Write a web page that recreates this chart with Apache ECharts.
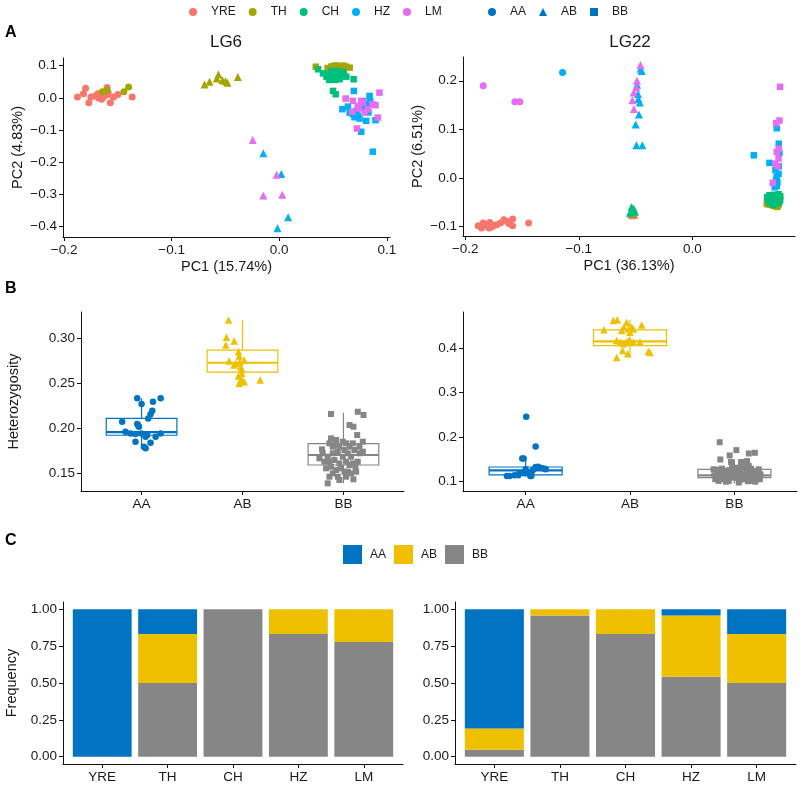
<!DOCTYPE html>
<html><head><meta charset="utf-8">
<script src="https://cdn.jsdelivr.net/npm/echarts@6/dist/echarts.min.js"></script>
<style>html,body{margin:0;padding:0;background:#fff}#c{width:800px;height:786px}</style>
</head><body><div id="c"></div>
<script>
// ---------- categories ----------
const POPS = ['YRE','TH','CH','HZ','LM'];
const GENOS = ['AA','AB','BB'];
const POP_COLORS = ['#F8766D','#A3A500','#00BF7D','#00B0F6','#E76BF3'];
const GENO_COLORS = ['#0073C2','#EFC000','#868686'];

// ---------- Panel A: PCA, LG6 ([PC1, PC2]) ----------
const LG6_YRE = {AA:[[-0.1876,0.003],[-0.182,0.013],[-0.180,0.030],[-0.177,-0.015],[-0.171,0.006],[-0.1685,0.013],[-0.166,0.009],[-0.1635,0.003],[-0.160,0.032],[-0.160,0.009],[-0.157,-0.015],[-0.154,0.003],[-0.150,0.011],[-0.1367,0.003],[-0.175,0.003],[-0.165,-0.004],[-0.159,0.016],[-0.168,0.0]], AB:[], BB:[]};
const LG6_TH = {AA:[[-0.1645,0.0195],[-0.160,0.024],[-0.1444,0.0195],[-0.140,0.034]],
  AB:[[-0.0694,0.042],[-0.0648,0.050],[-0.0565,0.073],[-0.0528,0.055],[-0.0481,0.047],[-0.0385,0.065],[-0.050,0.052],[-0.058,0.060]],
  BB:[[0.034,0.097],[0.0485,0.097],[0.053,0.101],[0.0578,0.099],[0.0624,0.097],[0.0655,0.094],[0.0516,0.091],[0.050,0.099],[0.055,0.095],[0.060,0.100],[0.045,0.093],[0.058,0.090]]};
const LG6_CH = {AA:[], AB:[], BB:[[0.0361,0.089],[0.0407,0.0765],[0.0463,0.056],[0.050,0.068],[0.0531,0.0836],[0.0556,0.0734],[0.0593,0.0805],[0.0624,0.066],[0.0562,0.058],[0.0516,0.056],[0.0485,0.0836],[0.0692,0.058],[0.050,0.0217],[0.0525,0.0115],[0.0454,0.0734],[0.044,0.066],[0.057,0.069],[0.060,0.075],[0.048,0.062],[0.053,0.064]]};
const LG6_HZ = {AA:[], AB:[[-0.0148,-0.172],[0.0019,-0.236],[0.0083,-0.371],[-0.0016,-0.405]],
  BB:[[0.0694,0.0217],[0.084,0.0062],[0.0846,-0.0093],[0.0587,-0.035],[0.0639,-0.027],[0.0685,-0.0505],[0.0747,-0.064],[0.0809,-0.0712],[0.0895,-0.069],[0.0763,-0.105],[0.087,-0.167],[0.0809,-0.0195],[0.0655,-0.0455],[0.0717,-0.040],[0.080,-0.030],[0.073,-0.055],[0.078,-0.010],[0.083,-0.045],[0.070,-0.060],[0.086,-0.020]]};
const LG6_LM = {AA:[], AB:[[-0.0246,-0.131],[-0.0024,-0.239],[-0.0148,-0.303],[0.0028,-0.301]],
  BB:[[0.0932,0.0164],[0.0618,-0.002],[0.0685,-0.0093],[0.0763,-0.0093],[0.0865,-0.0195],[0.0895,-0.0226],[0.0731,-0.0248],[0.068,-0.0433],[0.0794,-0.0455],[0.0917,-0.061],[0.0722,-0.095],[0.0778,-0.0146],[0.0824,-0.035],[0.074,-0.033]]};

// ---------- Panel A: PCA, LG22 ----------
const LG22_YRE = {AA:[[-0.1886,-0.0988],[-0.1856,-0.1035],[-0.1827,-0.0967],[-0.1798,-0.1002],[-0.1783,-0.092],[-0.1754,-0.0988],[-0.1724,-0.0967],[-0.1689,-0.0933],[-0.166,-0.0865],[-0.163,-0.090],[-0.1583,-0.0851],[-0.1583,-0.0988],[-0.1442,-0.0933],[-0.1789,-0.1035],[-0.1842,-0.0933],[-0.1613,-0.0947],[-0.1765,-0.1010]],
  AB:[[-0.0530,-0.077],[-0.0510,-0.076],[-0.0540,-0.074]], BB:[[0.0656,-0.0538]]};
const LG22_TH = {AA:[], AB:[[-0.0520,-0.074]],
  BB:[[0.0660,-0.050],[0.0680,-0.055],[0.0700,-0.045],[0.0720,-0.058],[0.0740,-0.052],[0.0753,-0.058],[0.0765,-0.048],[0.0690,-0.040],[0.0710,-0.053],[0.0730,-0.044],[0.0750,-0.040],[0.0670,-0.046],[0.0700,-0.056],[0.0735,-0.050],[0.0760,-0.055],[0.0775,-0.045],[0.0685,-0.050],[0.0715,-0.048],[0.0745,-0.060],[0.0725,-0.038],[0.0695,-0.042],[0.0755,-0.046],[0.0665,-0.054]]};
const LG22_CH = {AA:[], AB:[[-0.0535,-0.060],[-0.0515,-0.064],[-0.0550,-0.072],[-0.0505,-0.070]],
  BB:[[0.0660,-0.040],[0.0680,-0.036],[0.0700,-0.038],[0.0720,-0.035],[0.0740,-0.036],[0.0760,-0.034],[0.0775,-0.038],[0.0670,-0.045],[0.0690,-0.048],[0.0710,-0.042],[0.0730,-0.047],[0.0750,-0.044],[0.0770,-0.048],[0.0680,-0.052],[0.0700,-0.050],[0.0720,-0.054],[0.0740,-0.050],[0.0760,-0.052],[0.0715,-0.056],[0.0735,-0.040]]};
const LG22_HZ = {AA:[[-0.1143,0.2168]],
  AB:[[-0.0446,0.2202],[-0.0478,0.1726],[-0.0475,0.1624],[-0.047,0.1303],[-0.0499,0.1098],[-0.0492,0.0669],[-0.044,0.0669],[-0.0487,0.1916],[-0.0463,0.1554],[-0.0455,0.2250]],
  BB:[[0.0744,0.1022],[0.0762,0.0703],[0.0768,0.0511],[0.0542,0.0464],[0.068,0.0307],[0.0762,0.0239],[0.0733,0.0157],[0.0744,0.002],[0.0739,-0.0047],[0.0744,-0.017],[0.0727,-0.0196],[0.0760,0.0080],[0.0750,-0.010]]};
const LG22_LM = {AA:[[-0.1842,0.1896],[-0.1563,0.1569],[-0.1519,0.1569]],
  AB:[[-0.0457,0.2325],[-0.0487,0.1998],[-0.0492,0.186],[-0.0516,0.1759],[-0.0528,0.160],[-0.0514,0.142]],
  BB:[[0.0774,0.1875],[0.0768,0.118],[0.0739,0.1125],[0.0744,0.0532],[0.0762,0.060],[0.0733,0.0294],[0.0753,0.0239],[0.0709,-0.0102],[0.0760,0.040]]};

// ---------- Panel B: heterozygosity (x = genotype index + jitter) ----------
const HET_LG6_BOX = [[0.1774,0.192,0.1955,0.2108,0.233],[0.2475,0.2622,0.2726,0.2867,0.32],[0.1385,0.1589,0.170,0.1826,0.217]];
const HET_LG6_AA = [[0.957,0.233],[1.189,0.233],[1.0,0.2267],[1.113,0.2293],[1.106,0.2193],[1.089,0.2152],[1.066,0.2107],[0.808,0.207],[0.957,0.2044],[0.974,0.2015],[0.841,0.1959],[0.891,0.194],[0.940,0.1933],[1.0,0.194],[1.056,0.1922],[1.139,0.1904],[1.189,0.194],[1.040,0.1904],[0.940,0.1848],[1.089,0.1837],[1.040,0.1774],[1.023,0.1793],[0.967,0.203]];
const HET_LG6_AB = [[1.861,0.32],[1.841,0.3008],[1.917,0.2967],[1.834,0.2922],[1.960,0.2848],[1.967,0.28],[1.868,0.2744],[2.017,0.2756],[1.934,0.2719],[1.974,0.2737],[1.983,0.2681],[1.917,0.27],[1.993,0.2652],[1.993,0.2608],[1.960,0.2578],[1.983,0.2533],[2.017,0.2515],[1.967,0.2497],[2.175,0.2533]];
const HET_LG6_BB = [[2.877,0.2156],[3.142,0.2181],[3.199,0.2145],[3.06,0.2033],[3.099,0.2015],[3.136,0.1922],[3.192,0.1848],[2.788,0.1763],[2.877,0.1885],[2.861,0.183],[2.911,0.1811],[2.927,0.1867],[2.993,0.1848],[3.026,0.183],[3.06,0.1793],[3.093,0.183],[3.109,0.1756],[3.159,0.1719],[2.795,0.1719],[2.844,0.1681],[2.894,0.1719],[2.944,0.1737],[2.96,0.1793],[3.01,0.1756],[3.043,0.1719],[3.076,0.1681],[3.142,0.1626],[3.192,0.1737],[2.811,0.1626],[2.861,0.1626],[2.911,0.1644],[2.96,0.1607],[2.993,0.1681],[3.026,0.1626],[3.093,0.1607],[3.119,0.157],[2.828,0.1552],[2.877,0.157],[2.927,0.1533],[2.977,0.1552],[3.043,0.1515],[3.076,0.1496],[3.126,0.1515],[2.894,0.1496],[2.944,0.1459],[3.026,0.1459],[3.099,0.143],[2.96,0.1422],[2.844,0.1385],[2.861,0.1459],[3.01,0.1515],[3.06,0.1589],[2.894,0.1793],[3.159,0.1793],[2.762,0.1663]];

const HET_LG22_BOX = [[0.110,0.1145,0.1245,0.132,0.151],[0.378,0.4051,0.4147,0.4408,0.4638],[0.0955,0.1082,0.1134,0.1268,0.149]];
const HET_LG22_AA = [[0.821,0.1119],[0.846,0.1119],[0.894,0.1134],[0.942,0.1179],[0.968,0.1513],[0.981,0.1513],[1.0,0.1268],[1.022,0.1208],[1.045,0.1119],[1.054,0.1156],[1.096,0.132],[1.119,0.1327],[1.151,0.1298],[1.183,0.1283],[1.192,0.1268],[1.006,0.2451],[1.096,0.1781],[1.054,0.1119],[0.93,0.1134],[1.07,0.125],[0.99,0.118]];
const HET_LG22_AB = [[1.75,0.4408],[1.84,0.4616],[1.878,0.4638],[1.92,0.4393],[1.942,0.4467],[1.968,0.4579],[1.984,0.443],[2.0,0.4356],[2.016,0.4467],[2.032,0.443],[2.112,0.4519],[1.872,0.417],[1.904,0.4132],[1.936,0.4095],[1.968,0.4147],[2.0,0.417],[2.032,0.4132],[2.096,0.4132],[1.929,0.3943],[1.978,0.3872],[1.872,0.3783],[2.176,0.392],[2.192,0.3897],[1.994,0.4185]];
const HET_LG22_BB = [[2.859,0.1878],[3.019,0.17],[3.138,0.1625],[3.196,0.164],[2.865,0.149],[2.955,0.158],[3.074,0.14],[3.122,0.1454],[2.801,0.1268],[2.833,0.1193],[2.865,0.1119],[2.897,0.1045],[2.929,0.1231],[2.962,0.1156],[2.994,0.1082],[3.026,0.1305],[3.058,0.1193],[3.09,0.1045],[3.122,0.1268],[3.154,0.1119],[3.186,0.1231],[3.218,0.1045],[3.25,0.1156],[2.817,0.1045],[2.849,0.1007],[2.946,0.1007],[3.042,0.097],[3.106,0.1156],[3.17,0.1007],[3.234,0.1268],[2.881,0.1283],[2.978,0.1342],[3.01,0.1231],[3.074,0.1305],[3.138,0.1342],[3.202,0.1119],[2.913,0.1119],[3.032,0.1082],[3.147,0.1208],[3.244,0.1045],[2.808,0.1134],[3.064,0.1432],[3.096,0.1357],[2.968,0.1432],[2.84,0.108],[2.92,0.099],[2.95,0.125],[3.0,0.113],[3.05,0.102],[3.11,0.107],[3.16,0.128],[3.2,0.099],[2.87,0.121],[2.99,0.126],[3.08,0.111],[3.13,0.100],[3.22,0.121],[2.9,0.116],[3.02,0.116],[3.17,0.113],[2.83,0.126],[3.04,0.125],[3.12,0.120],[2.94,0.110],[3.06,0.106],[3.19,0.107]];

// ---------- Panel C: genotype frequencies per population ----------
const FREQ_LG6 = {AA:[1,0.1667,0,0,0], AB:[0,0.3333,0,0.1667,0.2222], BB:[0,0.5,1,0.8333,0.7778]};
const FREQ_LG22 = {AA:[0.8095,0,0,0.0417,0.1667], AB:[0.1429,0.0417,0.1667,0.4167,0.3333], BB:[0.0476,0.9583,0.8333,0.5417,0.5]};

// ---------- tick values ----------
const LG6_X_TICKS = [-0.2,-0.1,0,0.1];
const LG6_Y_TICKS = [-0.4,-0.3,-0.2,-0.1,0,0.1];
const LG22_X_TICKS = [-0.2,-0.1,0];
const LG22_Y_TICKS = [-0.1,0,0.1,0.2];
const HET_LG6_TICKS = [0.15,0.20,0.25,0.30];
const HET_LG22_TICKS = [0.1,0.2,0.3,0.4];
const FREQ_TICKS = [0,0.25,0.5,0.75,1];
const GENO_TICKS = [1,2,3];
const POP_TICKS = [1,2,3,4,5];

// ---------- styling ----------
const FONT = '"Liberation Sans", Arial, Helvetica, sans-serif';
const TXT = '#1a1a1a';
const SHAPE = {AA:'circle', AB:'triangle', BB:'rect'};
const SIZE = {AA:7, AB:8, BB:6.5};
const BOX_WIDTH = 0.7, BAR_WIDTH = 0.9;

function fmt(d){ return v => (v < -1e-9 ? '\u2212' : '') + Math.abs(v).toFixed(d); }
function catFmt(labels){ return v => labels[Math.round(v)-1]; }

function axis(grid, min, max, ticks, formatter, name, nameGap){
  return {
    type:'value', gridIndex:grid, min, max,
    axisLine:{show:true, onZero:false, lineStyle:{color:'#111', width:1}},
    axisTick:{show:true, length:4, customValues:ticks, lineStyle:{color:'#111', width:1}},
    axisLabel:{customValues:ticks, formatter, color:TXT, fontSize:13.5, fontFamily:FONT, margin:6},
    splitLine:{show:false},
    name: name || '', nameLocation:'middle', nameGap: nameGap || 20,
    nameTextStyle:{color:TXT, fontSize:14.5, fontFamily:FONT}
  };
}

const grids = [
  {left:63, top:58, width:327, height:179},
  {left:463, top:57, width:332, height:179},
  {left:81, top:312, width:323, height:179},
  {left:463, top:312, width:334, height:179},
  {left:63, top:602, width:340, height:162},
  {left:455, top:602, width:341, height:162}
];

const xAxes = [
  axis(0, -0.201, 0.103, LG6_X_TICKS, fmt(1), 'PC1 (15.74%)', 22),
  axis(1, -0.202, 0.0905, LG22_X_TICKS, fmt(1), 'PC1 (36.13%)', 22),
  axis(2, 0.4, 3.6, GENO_TICKS, catFmt(GENOS)),
  axis(3, 0.4, 3.6, GENO_TICKS, catFmt(GENOS)),
  axis(4, 0.4, 5.6, POP_TICKS, catFmt(POPS)),
  axis(5, 0.4, 5.6, POP_TICKS, catFmt(POPS))
];
const yAxes = [
  axis(0, -0.432, 0.124, LG6_Y_TICKS, fmt(1), 'PC2 (4.83%)', 38),
  axis(1, -0.12, 0.249, LG22_Y_TICKS, fmt(1), 'PC2 (6.51%)', 38),
  axis(2, 0.13, 0.329, HET_LG6_TICKS, fmt(2), 'Heterozygosity', 60),
  axis(3, 0.078, 0.481, HET_LG22_TICKS, fmt(1)),
  axis(4, -0.05, 1.05, FREQ_TICKS, fmt(2), 'Frequency', 44),
  axis(5, -0.05, 1.05, FREQ_TICKS, fmt(2))
];

const series = [];
function pcaSeries(byPop, grid){
  POPS.forEach((p, i) => {
    GENOS.forEach(g => {
      const d = byPop[p][g];
      if (!d.length) return;
      series.push({type:'scatter', name:p, xAxisIndex:grid, yAxisIndex:grid, data:d,
        symbol:SHAPE[g], symbolSize:SIZE[g], silent:true,
        itemStyle:{color:POP_COLORS[i], opacity:1}});
    });
  });
}
pcaSeries({YRE:LG6_YRE, TH:LG6_TH, CH:LG6_CH, HZ:LG6_HZ, LM:LG6_LM}, 0);
pcaSeries({YRE:LG22_YRE, TH:LG22_TH, CH:LG22_CH, HZ:LG22_HZ, LM:LG22_LM}, 1);

function renderBox(params, api){
  const x = api.value(0);
  const c = GENO_COLORS[params.dataIndex];
  const p = [1,2,3,4,5].map(k => api.coord([x, api.value(k)]));
  const hw = api.size([BOX_WIDTH, 0])[0] / 2;
  const cx = p[0][0], lw = 1.2;
  return {type:'group', children:[
    {type:'line', shape:{x1:cx, y1:p[4][1], x2:cx, y2:p[3][1]}, style:{stroke:c, lineWidth:lw}},
    {type:'line', shape:{x1:cx, y1:p[1][1], x2:cx, y2:p[0][1]}, style:{stroke:c, lineWidth:lw}},
    {type:'rect', shape:{x:cx-hw, y:p[3][1], width:2*hw, height:p[1][1]-p[3][1]}, style:{fill:'#fff', stroke:c, lineWidth:lw}},
    {type:'line', shape:{x1:cx-hw, y1:p[2][1], x2:cx+hw, y2:p[2][1]}, style:{stroke:c, lineWidth:2.2}}
  ]};
}
function hetSeries(box, pts, grid){
  series.push({type:'custom', name:'box'+grid, xAxisIndex:grid, yAxisIndex:grid, silent:true,
    data: box.map((s, i) => [i+1].concat(s)), encode:{x:0, y:[1,2,3,4,5]}, renderItem:renderBox});
  GENOS.forEach((g, i) => {
    series.push({type:'scatter', name:g, xAxisIndex:grid, yAxisIndex:grid, data:pts[i], silent:true,
      symbol:SHAPE[g], symbolSize:SIZE[g]-0.5, itemStyle:{color:GENO_COLORS[i], opacity:1}});
  });
}
hetSeries(HET_LG6_BOX, [HET_LG6_AA, HET_LG6_AB, HET_LG6_BB], 2);
hetSeries(HET_LG22_BOX, [HET_LG22_AA, HET_LG22_AB, HET_LG22_BB], 3);

function renderBar(params, api){
  const x = api.value(0), y0 = api.value(1), y1 = api.value(2);
  if (!(y1 - y0 > 0)) return {type:'group', children:[]};
  const a = api.coord([x, y0]), b = api.coord([x, y1]);
  const w = api.size([BAR_WIDTH, 0])[0];
  return {type:'rect', shape:{x:a[0]-w/2, y:b[1], width:w, height:a[1]-b[1]}, style:{fill:api.visual('color')}};
}
function freqSeries(freq, grid){
  const base = POPS.map(() => 0);
  ['BB','AB','AA'].forEach(g => {
    const data = freq[g].map((v, i) => { const d = [i+1, base[i], base[i]+v]; base[i] += v; return d; });
    series.push({type:'custom', name:g, xAxisIndex:grid, yAxisIndex:grid, silent:true, data,
      encode:{x:0, y:[1,2]}, itemStyle:{color:GENO_COLORS[GENOS.indexOf(g)]}, renderItem:renderBar});
  });
}
freqSeries(FREQ_LG6, 4);
freqSeries(FREQ_LG22, 5);

const legendText = {color:TXT, fontSize:12, fontFamily:FONT, padding:[0,0,0,9]};
const option = {
  animation:false,
  backgroundColor:'#fff',
  textStyle:{fontFamily:FONT},
  grid:grids, xAxis:xAxes, yAxis:yAxes, series,
  legend:[
    {left:189, top:6, padding:0, itemWidth:8, itemHeight:8, itemGap:13, selectedMode:false, textStyle:legendText,
     data: POPS.map((p, i) => ({name:p, icon:'circle', itemStyle:{color:POP_COLORS[i]}}))},
    {left:488, top:6, padding:0, itemWidth:8, itemHeight:8, itemGap:13, selectedMode:false, textStyle:legendText,
     data: GENOS.map(g => ({name:g, icon:SHAPE[g], itemStyle:{color:GENO_COLORS[0]}}))},
    {left:343, top:545, padding:0, itemWidth:19, itemHeight:19, itemGap:8, selectedMode:false,
     textStyle:{color:TXT, fontSize:12, fontFamily:FONT, padding:[0,0,0,3]},
     data: GENOS.map((g, i) => ({name:g, icon:'rect', itemStyle:{color:GENO_COLORS[i]}}))}
  ],
  graphic:[
    {type:'text', x:5, y:33, style:{text:'A', fontSize:16, fontWeight:'bold', fontFamily:FONT, fill:'#000', verticalAlign:'middle'}},
    {type:'text', x:5, y:289, style:{text:'B', fontSize:16, fontWeight:'bold', fontFamily:FONT, fill:'#000', verticalAlign:'middle'}},
    {type:'text', x:5, y:541, style:{text:'C', fontSize:16, fontWeight:'bold', fontFamily:FONT, fill:'#000', verticalAlign:'middle'}},
    {type:'text', x:226, y:42, style:{text:'LG6', fontSize:17, fontFamily:FONT, fill:TXT, align:'center', verticalAlign:'middle'}},
    {type:'text', x:630, y:42, style:{text:'LG22', fontSize:17, fontFamily:FONT, fill:TXT, align:'center', verticalAlign:'middle'}}
  ]
};
const chart = echarts.init(document.getElementById('c'), null, {renderer:'canvas'});
chart.setOption(option);
</script></body></html>
